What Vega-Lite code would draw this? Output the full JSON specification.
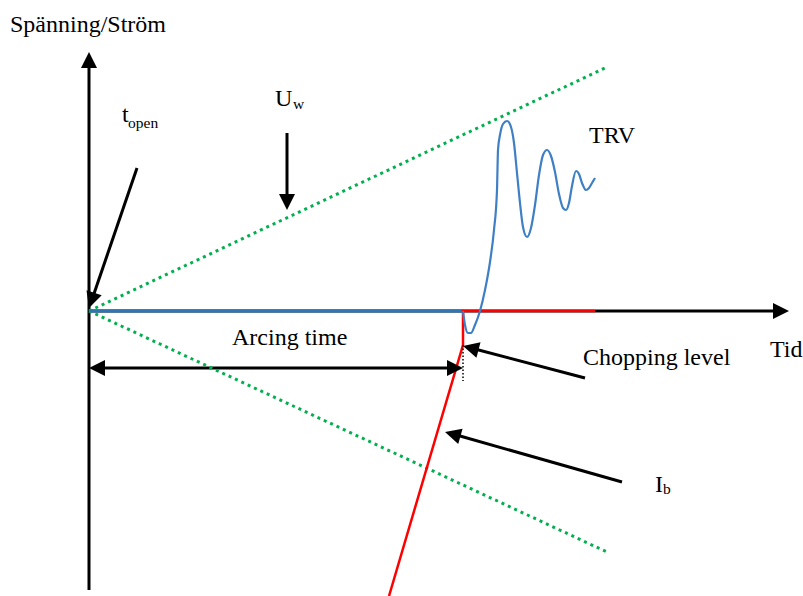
{
  "$schema": "https://vega.github.io/schema/vega-lite/v6.json",
  "width": 803,
  "height": 596,
  "autosize": {"type": "none"},
  "padding": 0,
  "background": "white",
  "config": {"view": {"stroke": null}},
  "datasets": {
    "segs": [
      {"s": "yaxis", "k": "black", "o": 1, "t": 0, "v": -27.9},
      {"s": "yaxis", "k": "black", "o": 2, "t": 0, "v": 25.1},
      {"s": "xaxis", "k": "black", "o": 1, "t": 0, "v": 0},
      {"s": "xaxis", "k": "black", "o": 2, "t": 69.2, "v": 0},
      {"s": "topen", "k": "black", "o": 1, "t": 4.8, "v": 14.3},
      {"s": "topen", "k": "black", "o": 2, "t": 0.25, "v": 1.0},
      {"s": "uw", "k": "black", "o": 1, "t": 19.8, "v": 17.8},
      {"s": "uw", "k": "black", "o": 2, "t": 19.8, "v": 10.9},
      {"s": "chop", "k": "black", "o": 1, "t": 49.6, "v": -6.7},
      {"s": "chop", "k": "black", "o": 2, "t": 38.2, "v": -3.7},
      {"s": "ib", "k": "black", "o": 1, "t": 53.3, "v": -17.1},
      {"s": "ib", "k": "black", "o": 2, "t": 36.4, "v": -12.3},
      {"s": "arc", "k": "black", "o": 1, "t": 0.8, "v": -5.7},
      {"s": "arc", "k": "black", "o": 2, "t": 36.6, "v": -5.7},
      {"s": "g1", "k": "green", "o": 1, "t": 0, "v": 0},
      {"s": "g1", "k": "green", "o": 2, "t": 51.8, "v": 24.4},
      {"s": "g2", "k": "green", "o": 1, "t": 0, "v": 0},
      {"s": "g2", "k": "green", "o": 2, "t": 51.8, "v": -24.1},
      {"s": "bh", "k": "blueh", "o": 1, "t": 0, "v": 0},
      {"s": "bh", "k": "blueh", "o": 2, "t": 37.4, "v": 0},
      {"s": "r", "k": "red", "o": 1, "t": 50.6, "v": 0},
      {"s": "r", "k": "red", "o": 2, "t": 37.4, "v": 0},
      {"s": "r", "k": "red", "o": 3, "t": 37.4, "v": -3.4},
      {"s": "r", "k": "red", "o": 4, "t": 30.0, "v": -28.5},
      {"s": "d", "k": "dots", "o": 1, "t": 37.4, "v": -3.4},
      {"s": "d", "k": "dots", "o": 2, "t": 37.4, "v": -7.0}
    ],
    "trv": [
      {"t": 37.4, "v": 0},
      {"t": 37.6, "v": -1.4},
      {"t": 37.9, "v": -2.2},
      {"t": 38.2, "v": -2.2},
      {"t": 38.6, "v": -1.4},
      {"t": 39.1, "v": 0},
      {"t": 39.6, "v": 2.1},
      {"t": 40.1, "v": 4.9},
      {"t": 40.5, "v": 8.1},
      {"t": 40.8, "v": 12.1},
      {"t": 40.9, "v": 16.1},
      {"t": 41.1, "v": 17.6},
      {"t": 41.4, "v": 18.7},
      {"t": 41.8, "v": 19.0},
      {"t": 42.2, "v": 18.4},
      {"t": 42.5, "v": 16.8},
      {"t": 42.8, "v": 13.8},
      {"t": 43.1, "v": 10.8},
      {"t": 43.4, "v": 8.4},
      {"t": 43.8, "v": 7.4},
      {"t": 44.2, "v": 8.3},
      {"t": 44.6, "v": 10.6},
      {"t": 45.0, "v": 13.6},
      {"t": 45.4, "v": 15.6},
      {"t": 45.8, "v": 16.1},
      {"t": 46.2, "v": 15.5},
      {"t": 46.6, "v": 13.9},
      {"t": 47.0, "v": 11.7},
      {"t": 47.4, "v": 10.3},
      {"t": 47.7, "v": 10.1},
      {"t": 48.0, "v": 10.8},
      {"t": 48.3, "v": 12.5},
      {"t": 48.7, "v": 14.0},
      {"t": 49.0, "v": 13.7},
      {"t": 49.3, "v": 12.8},
      {"t": 49.7, "v": 12.1},
      {"t": 50.0, "v": 12.3},
      {"t": 50.3, "v": 12.8},
      {"t": 50.6, "v": 13.3}
    ],
    "heads": [
      {"arrow": "yaxis", "t": 0, "v": 25.9},
      {"arrow": "xaxis", "t": 70.0, "v": 0},
      {"arrow": "topen", "t": 0, "v": 0.3},
      {"arrow": "uw", "t": 19.8, "v": 10.1},
      {"arrow": "chop", "t": 37.4, "v": -3.5},
      {"arrow": "ib", "t": 35.6, "v": -12.1},
      {"arrow": "arcL", "t": 0, "v": -5.7},
      {"arrow": "arcR", "t": 37.4, "v": -5.7}
    ],
    "labels": [
      {"label": "Spänning/Ström", "role": "main", "t": -7.9, "v": 27.9},
      {"label": "t", "role": "main", "t": 3.3, "v": 18.9},
      {"label": "open", "role": "sub", "t": 3.9, "v": 18.3},
      {"label": "U", "role": "main", "t": 18.6, "v": 20.5},
      {"label": "w", "role": "sub", "t": 20.4, "v": 20.2},
      {"label": "TRV", "role": "main", "t": 50.0, "v": 16.8},
      {"label": "Arcing time", "role": "main", "t": 14.3, "v": -3.4},
      {"label": "Chopping level", "role": "main", "t": 49.4, "v": -5.4},
      {"label": "Tid", "role": "main", "t": 68.1, "v": -4.6},
      {"label": "I", "role": "main", "t": 56.6, "v": -18.1},
      {"label": "b", "role": "sub", "t": 57.4, "v": -18.3}
    ]
  },
  "encoding": {
    "x": {"field": "t", "type": "quantitative", "scale": {"domain": [-8.9, 71.4], "nice": false, "zero": false}, "axis": null},
    "y": {"field": "v", "type": "quantitative", "scale": {"domain": [-28.5, 31.1], "nice": false, "zero": false}, "axis": null}
  },
  "layer": [
    {
      "data": {"name": "segs"},
      "transform": [{"filter": "datum.k === 'black'"}],
      "mark": {"type": "line", "color": "#000000", "strokeWidth": 3},
      "encoding": {"detail": {"field": "s"}, "order": {"field": "o", "type": "quantitative"}}
    },
    {
      "data": {"name": "segs"},
      "transform": [{"filter": "datum.k === 'green'"}],
      "mark": {"type": "line", "color": "#00b050", "strokeWidth": 3, "strokeDash": [3, 4], "strokeCap": "butt"},
      "encoding": {"detail": {"field": "s"}, "order": {"field": "o", "type": "quantitative"}}
    },
    {
      "data": {"name": "segs"},
      "transform": [{"filter": "datum.k === 'blueh'"}],
      "mark": {"type": "line", "color": "#2e75b6", "strokeWidth": 3},
      "encoding": {"detail": {"field": "s"}, "order": {"field": "o", "type": "quantitative"}}
    },
    {
      "data": {"name": "segs"},
      "transform": [{"filter": "datum.k === 'red'"}],
      "mark": {"type": "line", "color": "#ff0000", "strokeWidth": 2.5},
      "encoding": {"detail": {"field": "s"}, "order": {"field": "o", "type": "quantitative"}}
    },
    {
      "data": {"name": "trv"},
      "mark": {"type": "line", "color": "#3f7fc4", "strokeWidth": 2.2, "interpolate": "monotone"},
      "encoding": {"order": {"field": "t", "type": "quantitative"}}
    },
    {
      "data": {"name": "segs"},
      "transform": [{"filter": "datum.k === 'dots'"}],
      "mark": {"type": "line", "color": "#000000", "strokeWidth": 1.5, "strokeDash": [1.5, 2]},
      "encoding": {"detail": {"field": "s"}, "order": {"field": "o", "type": "quantitative"}}
    },
    {
      "data": {"name": "heads"},
      "mark": {"type": "point", "shape": "M0,0L-0.5,1L0.5,1Z", "size": 1024, "filled": true, "color": "#000000", "opacity": 1, "strokeWidth": 0},
      "encoding": {
        "angle": {
          "field": "arrow",
          "type": "nominal",
          "scale": {"type": "ordinal", "domain": ["yaxis", "xaxis", "topen", "uw", "chop", "ib", "arcL", "arcR"], "range": [0, 90, 198.5, 180, 284.7, 285.8, 270, 90]},
          "legend": null
        }
      }
    },
    {
      "data": {"name": "labels"},
      "transform": [{"filter": "datum.role === 'main'"}],
      "mark": {"type": "text", "font": "Liberation Serif", "fontSize": 24, "align": "left", "baseline": "alphabetic", "color": "#000000"},
      "encoding": {"text": {"field": "label"}}
    },
    {
      "data": {"name": "labels"},
      "transform": [{"filter": "datum.role === 'sub'"}],
      "mark": {"type": "text", "font": "Liberation Serif", "fontSize": 15.5, "align": "left", "baseline": "alphabetic", "color": "#000000"},
      "encoding": {"text": {"field": "label"}}
    }
  ]
}
